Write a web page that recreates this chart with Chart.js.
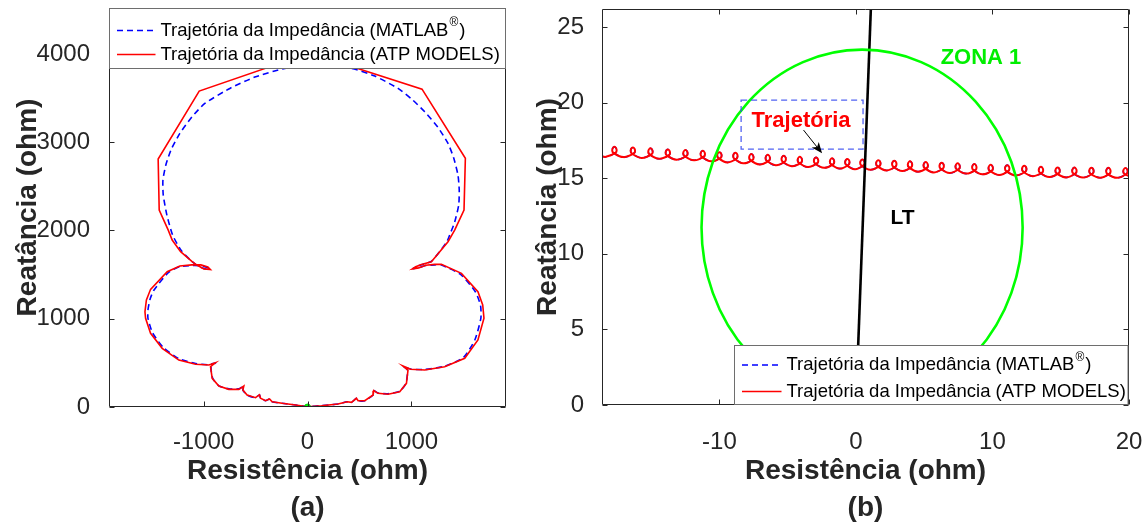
<!DOCTYPE html>
<html>
<head>
<meta charset="utf-8">
<script src="https://cdn.jsdelivr.net/npm/chart.js@4.4.0/dist/chart.umd.min.js"></script>
<style>
html, body { margin: 0; padding: 0; background: #fff; }
#wrap { position: relative; width: 1146px; height: 522px; overflow: hidden; }
#ca { position: absolute; left: 0; top: 0; }
#cb { position: absolute; left: 525px; top: 0; }
</style>
</head>
<body>
<div id="wrap">
<canvas id="ca" width="525" height="522"></canvas>
<canvas id="cb" width="621" height="522"></canvas>
</div>
<script>
// ---- (a) trajetoria completa, [R, X] em ohm
var zAtpA = [
  [0,3],[-115,23],[-244,42],[-340,60],[-365,91],[-404,71],[-452,99],[-462,139],[-500,105],[-581,136],
  [-622,193],[-613,238],[-661,200],[-757,200],[-853,238],[-917,325],[-933,456],[-885,502],[-949,476],
  [-1077,484],[-1238,532],[-1398,665],[-1510,835],[-1558,1005],[-1564,1079],[-1550,1212],[-1510,1333],
  [-1350,1532],[-1228,1597],[-1113,1610],[-1026,1610],[-959,1586],[-935,1557],[-997,1565],[-1064,1608],
  [-1110,1646],[-1221,1759],[-1302,1891],[-1340,2004],[-1427,2231],[-1437,2809],[-1042,3579],[22,4009],
  [1102,3601],[1519,2817],[1506,2231],[1416,2004],[1352,1872],[1192,1646],[1096,1614],[1041,1588],
  [1011,1565],[1070,1576],[1138,1606],[1224,1616],[1288,1616],[1481,1514],[1640,1306],[1686,1155],
  [1698,1005],[1640,759],[1513,552],[1320,456],[1128,419],[993,427],[919,464],[967,419],[952,268],
  [887,173],[775,144],[679,155],[638,185],[631,136],[551,71],[487,71],[471,99],[423,53],[381,60],
  [294,34],[135,15],[0,3]
];
var zMatlabA = [
  [0,3],[-115,23],[-244,42],[-340,60],[-365,91],[-404,71],[-452,99],[-462,139],[-500,105],[-581,136],
  [-622,193],[-613,238],[-661,205],[-757,205],[-853,240],[-912,325],[-928,456],[-885,500],[-949,478],
  [-1077,492],[-1238,548],[-1385,672],[-1490,838],[-1535,1005],[-1535,1100],[-1515,1220],[-1480,1320],
  [-1340,1522],[-1228,1590],[-1113,1602],[-1030,1600],[-960,1578],[-945,1562],[-1000,1568],[-1064,1605],
  [-1113,1650],[-1213,1770],[-1298,1948],[-1353,2174],[-1388,2401],[-1391,2571],[-1363,2741],[-1314,2911],
  [-1228,3100],[-1113,3284],[-988,3439],[-747,3609],[-507,3737],[-218,3836],[3,3850],[214,3845],
  [423,3836],[647,3749],[871,3609],[1013,3477],[1128,3344],[1253,3171],[1352,2986],[1407,2820],
  [1448,2627],[1460,2458],[1455,2288],[1416,2095],[1368,1948],[1340,1870],[1192,1650],[1096,1612],
  [1040,1586],[1015,1568],[1070,1578],[1138,1602],[1224,1610],[1288,1608],[1470,1505],[1615,1306],
  [1665,1150],[1668,1005],[1610,759],[1500,560],[1320,462],[1128,425],[993,430],[919,464],[962,419],
  [947,268],[887,178],[775,150],[679,158],[638,185],[631,136],[551,71],[487,71],[471,99],[423,53],
  [381,60],[294,34],[135,15],[0,3]
];
var zOriginA = [[0,0]];
var ticksAX = [-1000, 0, 1000];
var ticksAY = [0, 1000, 2000, 3000, 4000];

// ---- (b) detalhe da trajetoria perto da zona 1
var zTrajB = [
  [-18.70,16.47],[-18.31,16.42],
  [-17.60,16.70],[-17.54,16.93],[-17.69,17.08],[-17.84,16.93],[-17.78,16.70],[-17.02,16.40],
  [-16.25,16.66],[-16.19,16.89],[-16.34,17.04],[-16.49,16.89],[-16.43,16.66],[-15.70,16.35],
  [-14.96,16.60],[-14.90,16.83],[-15.05,16.98],[-15.20,16.83],[-15.14,16.60],[-14.42,16.29],
  [-13.69,16.53],[-13.63,16.76],[-13.78,16.91],[-13.93,16.76],[-13.87,16.53],[-13.14,16.23],
  [-12.40,16.49],[-12.34,16.72],[-12.49,16.87],[-12.64,16.72],[-12.58,16.49],[-11.86,16.19],
  [-11.13,16.44],[-11.07,16.67],[-11.22,16.82],[-11.37,16.67],[-11.31,16.44],[-10.61,16.12],
  [-9.91,16.35],[-9.85,16.58],[-10.00,16.73],[-10.15,16.58],[-10.09,16.35],[-9.42,16.05],
  [-8.74,16.31],[-8.68,16.54],[-8.83,16.69],[-8.98,16.54],[-8.92,16.31],[-8.25,15.99],
  [-7.57,16.22],[-7.51,16.45],[-7.66,16.60],[-7.81,16.45],[-7.75,16.22],[-7.06,15.92],
  [-6.37,16.17],[-6.31,16.40],[-6.46,16.55],[-6.61,16.40],[-6.55,16.17],[-5.88,15.86],
  [-5.20,16.11],[-5.14,16.34],[-5.29,16.49],[-5.44,16.34],[-5.38,16.11],[-4.70,15.80],
  [-4.02,16.04],[-3.96,16.27],[-4.11,16.42],[-4.26,16.27],[-4.20,16.04],[-3.52,15.74],
  [-2.83,16.00],[-2.77,16.23],[-2.92,16.38],[-3.07,16.23],[-3.01,16.00],[-2.34,15.69],
  [-1.66,15.94],[-1.60,16.17],[-1.75,16.32],[-1.90,16.17],[-1.84,15.94],[-1.19,15.64],
  [-0.54,15.90],[-0.48,16.13],[-0.63,16.28],[-0.78,16.13],[-0.72,15.90],[-0.08,15.60],
  [0.56,15.86],[0.62,16.09],[0.47,16.24],[0.32,16.09],[0.38,15.86],[1.06,15.56],
  [1.73,15.82],[1.79,16.05],[1.64,16.20],[1.49,16.05],[1.55,15.82],[2.23,15.52],
  [2.90,15.78],[2.96,16.01],[2.81,16.16],[2.66,16.01],[2.72,15.78],[3.39,15.48],
  [4.05,15.74],[4.11,15.97],[3.96,16.12],[3.81,15.97],[3.87,15.74],[4.54,15.44],
  [5.20,15.69],[5.26,15.92],[5.11,16.07],[4.96,15.92],[5.02,15.69],[5.70,15.39],
  [6.37,15.65],[6.43,15.88],[6.28,16.03],[6.13,15.88],[6.19,15.65],[6.87,15.35],
  [7.54,15.61],[7.60,15.84],[7.45,15.99],[7.30,15.84],[7.36,15.61],[8.06,15.31],
  [8.76,15.56],[8.82,15.79],[8.67,15.94],[8.52,15.79],[8.58,15.56],[9.27,15.26],
  [9.96,15.51],[10.02,15.74],[9.87,15.89],[9.72,15.74],[9.78,15.51],[10.48,15.22],
  [11.17,15.49],[11.23,15.72],[11.08,15.87],[10.93,15.72],[10.99,15.49],[11.71,15.19],
  [12.42,15.45],[12.48,15.68],[12.33,15.83],[12.18,15.68],[12.24,15.45],[12.94,15.14],
  [13.64,15.38],[13.70,15.61],[13.55,15.76],[13.40,15.61],[13.46,15.38],[14.16,15.08],
  [14.86,15.34],[14.92,15.57],[14.77,15.72],[14.62,15.57],[14.68,15.34],[15.39,15.06],
  [16.09,15.33],[16.15,15.56],[16.00,15.71],[15.85,15.56],[15.91,15.33],[16.63,15.05],
  [17.34,15.32],[17.40,15.55],[17.25,15.70],[17.10,15.55],[17.16,15.32],[17.87,15.04],
  [18.58,15.31],[18.64,15.54],[18.49,15.69],[18.34,15.54],[18.40,15.31],[19.12,15.03],
  [19.83,15.30],[19.89,15.53],[19.74,15.68],[19.59,15.53],[19.65,15.30],[20.36,15.02]
];
var zLineLT = [[0,0],[1.12,26.9]];
var zone1Center = [0.45, 11.75];
var zone1Radius = 11.76;
var trajBoxB = [[-8.41,20.17],[0.52,16.93]];
var arrowB = [[-3.84,18.19],[-2.48,16.65]];
var labelZona = [9.16, 22.98];
var labelLT = [3.41, 12.33];
var labelTraj = [-4.02, 18.78];
var ticksBX = [-10, 0, 10, 20];
var ticksBY = [0, 5, 10, 15, 20, 25];

var FONT = '"Liberation Sans", Arial, Helvetica, sans-serif';
var INK = '#262626';
var TICK = 5;
var legendRows = [
  {txt: 'Trajetória da Impedância (MATLAB', sup: '®', end: ')', color: '#0000ff', dash: [6, 4]},
  {txt: 'Trajetória da Impedância (ATP MODELS)', sup: '', end: '', color: '#ff0000', dash: []}
];

Chart.defaults.font.family = FONT;
Chart.defaults.color = INK;

function drawFrame(chart) {
  var ctx = chart.ctx, a = chart.chartArea, sx = chart.scales.x, sy = chart.scales.y;
  var l = Math.round(a.left) + 0.5, r = Math.round(a.right) - 0.5;
  var t = Math.round(a.top) + 0.5, b = Math.round(a.bottom) - 0.5;
  ctx.save();
  ctx.strokeStyle = INK;
  ctx.lineWidth = 1;
  ctx.setLineDash([]);
  ctx.beginPath();
  ctx.rect(l, t, r - l, b - t);
  sx.ticks.forEach(function (tk) {
    var p = Math.round(sx.getPixelForValue(tk.value)) + 0.5;
    ctx.moveTo(p, b); ctx.lineTo(p, b - TICK);
    ctx.moveTo(p, t); ctx.lineTo(p, t + TICK);
  });
  sy.ticks.forEach(function (tk) {
    var p = Math.round(sy.getPixelForValue(tk.value)) + 0.5;
    ctx.moveTo(l, p); ctx.lineTo(l + TICK, p);
    ctx.moveTo(r, p); ctx.lineTo(r - TICK, p);
  });
  ctx.stroke();
  ctx.restore();
}

function drawLegend(ctx, x, y, w, h, rowY, s0, s1, tx) {
  ctx.save();
  ctx.fillStyle = '#fff';
  ctx.fillRect(x, y, w, h);
  ctx.strokeStyle = '#6e6e6e';
  ctx.lineWidth = 1;
  ctx.setLineDash([]);
  ctx.strokeRect(x, y, w, h);
  legendRows.forEach(function (row, i) {
    var cy = y + rowY[i];
    ctx.strokeStyle = row.color;
    ctx.lineWidth = 1.6;
    ctx.setLineDash(row.dash);
    ctx.beginPath();
    ctx.moveTo(x + s0, cy); ctx.lineTo(x + s1, cy);
    ctx.stroke();
    ctx.fillStyle = '#000';
    ctx.textAlign = 'left';
    ctx.textBaseline = 'middle';
    ctx.font = '18.5px ' + FONT;
    ctx.fillText(row.txt, x + tx, cy);
    var wx = x + tx + ctx.measureText(row.txt).width;
    if (row.sup) {
      ctx.font = '12px ' + FONT;
      ctx.fillText(row.sup, wx + 1, cy - 7.5);
      wx += ctx.measureText(row.sup).width + 2;
      ctx.font = '18.5px ' + FONT;
      ctx.fillText(row.end, wx, cy);
    }
  });
  ctx.restore();
}

function caption(chart, txt) {
  var ctx = chart.ctx, a = chart.chartArea;
  ctx.save();
  ctx.fillStyle = INK;
  ctx.font = 'bold 28px ' + FONT;
  ctx.textAlign = 'center';
  ctx.textBaseline = 'middle';
  ctx.fillText(txt, (a.left + a.right) / 2, 508);
  ctx.restore();
}

function axes(lim, tx, ty, w, h, tpadX, tpadY, titlePadY) {
  var tickFont = {size: 24, family: FONT};
  var titleFont = {size: 28, weight: 'bold', family: FONT};
  var fmt = function (v) { return String(v); };
  return {
    x: {
      type: 'linear', min: lim[0], max: lim[1],
      afterBuildTicks: function (s) { s.ticks = tx.map(function (v) { return {value: v}; }); },
      afterFit: function (s) { s.height = h; s.paddingLeft = 0; s.paddingRight = 0; },
      grid: {display: false}, border: {display: false},
      ticks: {padding: tpadX, color: INK, font: tickFont, maxRotation: 0, autoSkip: false, callback: fmt},
      title: {display: true, text: 'Resistência (ohm)', color: INK, font: titleFont,
              padding: {top: 0, bottom: 34}}
    },
    y: {
      type: 'linear', min: lim[2], max: lim[3],
      afterBuildTicks: function (s) { s.ticks = ty.map(function (v) { return {value: v}; }); },
      afterFit: function (s) { s.width = w; s.paddingTop = 0; s.paddingBottom = 0; },
      grid: {display: false}, border: {display: false},
      ticks: {padding: tpadY, color: INK, font: tickFont, autoSkip: false, callback: fmt},
      title: {display: true, text: 'Reatância (ohm)', color: INK, font: titleFont,
              padding: {top: titlePadY, bottom: 0}}
    }
  };
}

var frameA = {
  id: 'frameA',
  afterDraw: function (chart) {
    var a = chart.chartArea;
    drawFrame(chart);
    drawLegend(chart.ctx, Math.round(a.left) + 0.5, Math.round(a.top) + 0.5,
               Math.round(a.right - a.left) - 1, 60, [22, 46], 7.5, 46, 51);
    caption(chart, '(a)');
  }
};

new Chart(document.getElementById('ca'), {
  type: 'scatter',
  data: {
    datasets: [
      {label: 'origem', data: zOriginA, showLine: false, pointRadius: 3, pointBackgroundColor: '#00ff00',
       pointBorderColor: '#00cc00', pointBorderWidth: 1},
      {label: 'ATP MODELS', data: zAtpA, showLine: true, borderColor: '#ff0000', borderWidth: 1.6,
       pointRadius: 0, tension: 0, clip: 0},
      {label: 'MATLAB', data: zMatlabA, showLine: true, borderColor: '#0000ff', borderWidth: 1.6,
       borderDash: [6, 4], pointRadius: 0, tension: 0.2, clip: 0}
    ]
  },
  options: {
    responsive: false, animation: false,
    layout: {padding: {top: 8, right: 19, left: 0, bottom: 0}},
    plugins: {legend: {display: false}, tooltip: {enabled: false}},
    scales: axes([-1910, 1910, 0, 4520], ticksAX, ticksAY, 109, 115, 13, 11, 11)
  },
  plugins: [frameA]
});

var decorB = {
  id: 'decorB',
  afterDatasetsDraw: function (chart) {
    var ctx = chart.ctx, a = chart.chartArea, sx = chart.scales.x, sy = chart.scales.y;
    ctx.save();
    ctx.beginPath();
    ctx.rect(a.left, a.top, a.right - a.left, a.bottom - a.top);
    ctx.clip();
    // zona 1 (circulo mho)
    var cx = sx.getPixelForValue(zone1Center[0]), cy = sy.getPixelForValue(zone1Center[1]);
    var rx = sx.getPixelForValue(zone1Center[0] + zone1Radius) - cx;
    var ry = cy - sy.getPixelForValue(zone1Center[1] + zone1Radius);
    ctx.strokeStyle = '#00ff00';
    ctx.lineWidth = 2.6;
    ctx.beginPath();
    ctx.ellipse(cx, cy, rx, ry, 0, 0, Math.PI * 2);
    ctx.stroke();
    // caixa tracejada
    var bx0 = sx.getPixelForValue(trajBoxB[0][0]), by0 = sy.getPixelForValue(trajBoxB[0][1]);
    var bx1 = sx.getPixelForValue(trajBoxB[1][0]), by1 = sy.getPixelForValue(trajBoxB[1][1]);
    ctx.strokeStyle = 'rgba(50,70,240,0.85)';
    ctx.lineWidth = 1.3;
    ctx.setLineDash([6, 4]);
    ctx.strokeRect(bx0, by0, bx1 - bx0, by1 - by0);
    ctx.setLineDash([]);
    // seta
    var ax0 = sx.getPixelForValue(arrowB[0][0]), ay0 = sy.getPixelForValue(arrowB[0][1]);
    var ax1 = sx.getPixelForValue(arrowB[1][0]), ay1 = sy.getPixelForValue(arrowB[1][1]);
    var ang = Math.atan2(ay1 - ay0, ax1 - ax0);
    ctx.strokeStyle = '#000';
    ctx.lineWidth = 1;
    ctx.beginPath();
    ctx.moveTo(ax0, ay0); ctx.lineTo(ax1 - 6 * Math.cos(ang), ay1 - 6 * Math.sin(ang));
    ctx.stroke();
    ctx.save();
    ctx.translate(ax1, ay1);
    ctx.rotate(ang);
    ctx.fillStyle = '#000';
    ctx.beginPath();
    ctx.moveTo(0, 0); ctx.lineTo(-11, -4.5); ctx.lineTo(-8, 0); ctx.lineTo(-11, 4.5);
    ctx.closePath();
    ctx.fill();
    ctx.restore();
    // textos
    ctx.textAlign = 'center';
    ctx.textBaseline = 'middle';
    ctx.font = 'bold 22px ' + FONT;
    ctx.fillStyle = '#00ee00';
    ctx.fillText('ZONA 1', sx.getPixelForValue(labelZona[0]), sy.getPixelForValue(labelZona[1]));
    ctx.fillStyle = '#ff0000';
    ctx.fillText('Trajetória', sx.getPixelForValue(labelTraj[0]), sy.getPixelForValue(labelTraj[1]));
    ctx.font = 'bold 21px ' + FONT;
    ctx.fillStyle = '#000';
    ctx.fillText('LT', sx.getPixelForValue(labelLT[0]), sy.getPixelForValue(labelLT[1]));
    ctx.restore();
  },
  afterDraw: function (chart) {
    var a = chart.chartArea;
    drawFrame(chart);
    var lx = 209.5, ly = 345.5;
    drawLegend(chart.ctx, lx, ly, Math.round(a.right) - 1 - lx, Math.round(a.bottom) - 0.5 - ly,
               [19.5, 46], 7.5, 47, 52);
    caption(chart, '(b)');
  }
};

new Chart(document.getElementById('cb'), {
  type: 'scatter',
  data: {
    datasets: [
      {label: 'LT', data: zLineLT, showLine: true, borderColor: '#000', borderWidth: 2.6,
       pointRadius: 0, tension: 0},
      {label: 'ATP MODELS', data: zTrajB, showLine: true, borderColor: '#ff0000', borderWidth: 2,
       pointRadius: 0, tension: 0.35, clip: 0},
      {label: 'MATLAB', data: zTrajB, showLine: true, borderColor: '#0000ff', borderWidth: 1.6,
       borderDash: [6, 4], pointRadius: 0, tension: 0.35, clip: 0}
    ]
  },
  options: {
    responsive: false, animation: false,
    layout: {padding: {top: 9, right: 17, left: 0, bottom: 0}},
    plugins: {legend: {display: false}, tooltip: {enabled: false}},
    scales: axes([-18.6, 20, 0, 26.2], ticksBX, ticksBY, 77, 117, 15, 10, 6)
  },
  plugins: [decorB]
});
</script>
</body>
</html>
